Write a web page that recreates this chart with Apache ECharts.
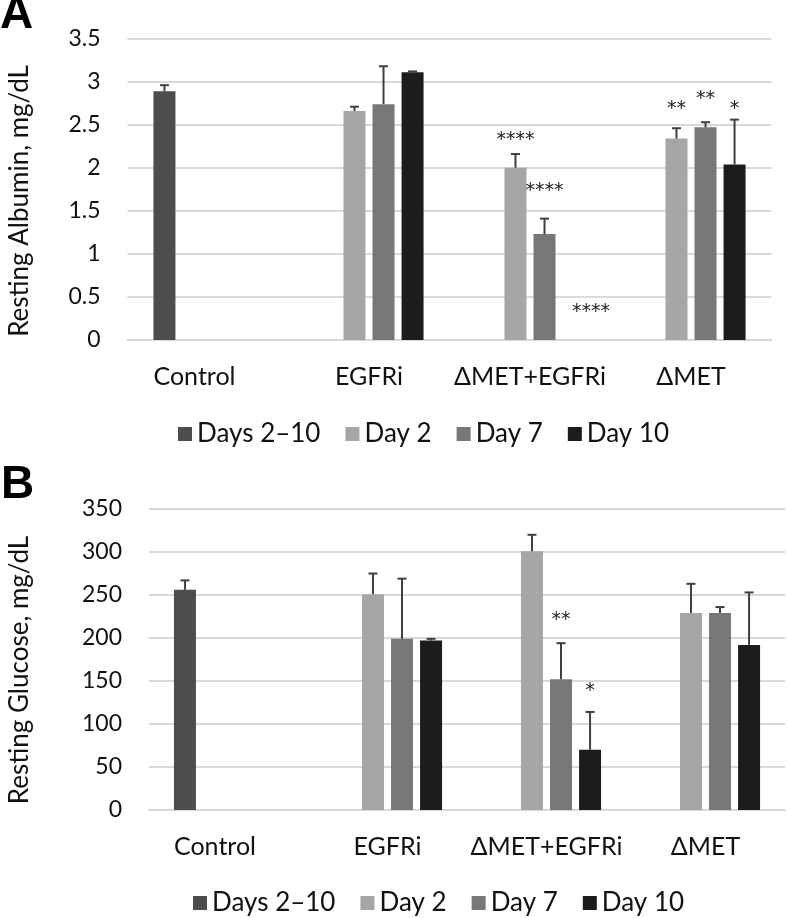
<!DOCTYPE html>
<html>
<head>
<meta charset="utf-8">
<script src="https://cdn.jsdelivr.net/npm/echarts@6/dist/echarts.min.js"></script>
<style>
  html, body { margin: 0; padding: 0; background: #fff; }
  #chart-container { width: 788px; height: 918px; }
</style>
</head>
<body>
<div id="chart-container"></div>
<script>
// groups and series
var categories = ['Control', 'EGFRi', 'ΔMET+EGFRi', 'ΔMET'];
var seriesNames = ['Days 2–10', 'Day 2', 'Day 7', 'Day 10'];
var seriesColors = ['#4d4d4d', '#a6a6a6', '#777777', '#1c1c1c'];

// panel A - resting albumin (mg/dL), mean and upper error
var albControl = [2.89, null, null, null];
var albDay2 = [null, 2.66, 2.00, 2.34];
var albDay7 = [null, 2.74, 1.23, 2.47];
var albDay10 = [null, 3.11, null, 2.04];
var albErrControl = [0.07, null, null, null];
var albErrDay2 = [null, 0.05, 0.16, 0.12];
var albErrDay7 = [null, 0.44, 0.18, 0.06];
var albErrDay10 = [null, 0.01, null, 0.52];
var albTicks = [0, 0.5, 1, 1.5, 2, 2.5, 3, 3.5];
// [category, series slot, value, text]
var albStars = [
  [2, 1, 2.37, '****'],
  [2, 2, 1.78, '****'],
  [2, 3.6, 0.375, '****'],
  [3, 1, 2.73, '**'],
  [3, 2, 2.85, '**'],
  [3, 3, 2.73, '*']
];

// panel B - resting glucose (mg/dL)
var gluControl = [256, null, null, null];
var gluDay2 = [null, 251, 301, 229];
var gluDay7 = [null, 199, 152, 229];
var gluDay10 = [null, 197, 70, 192];
var gluErrControl = [11, null, null, null];
var gluErrDay2 = [null, 24, 19, 34];
var gluErrDay7 = [null, 70, 42, 7];
var gluErrDay10 = [null, 2, 44, 61];
var gluTicks = [0, 50, 100, 150, 200, 250, 300, 350];
var gluStars = [
  [2, 2, 226, '**'],
  [2, 3, 143, '*']
];

var FONT = 'Lato';
var BAR_W = 22;
var BAR_GAP = 0.32;
var SLOT = BAR_W * (1 + BAR_GAP);

var dom = document.getElementById('chart-container');
var myChart = echarts.init(dom, null, { renderer: 'canvas' });

function barSeries(name, data, color, idx) {
  return {
    name: name,
    type: 'bar',
    xAxisIndex: idx,
    yAxisIndex: idx,
    data: data,
    barWidth: BAR_W,
    barGap: (BAR_GAP * 100) + '%',
    itemStyle: { color: color },
    z: 2
  };
}

function errSeries(means, errs, slot, idx) {
  var data = [];
  means.forEach(function (m, i) {
    if (m != null && errs[i] != null) data.push([i, m, errs[i]]);
  });
  return {
    type: 'custom',
    xAxisIndex: idx,
    yAxisIndex: idx,
    z: 3,
    silent: true,
    data: data,
    renderItem: function (params, api) {
      var base = api.coord([api.value(0), api.value(1)]);
      var top = api.coord([api.value(0), api.value(1) + api.value(2)]);
      var x = base[0] + (slot - 1.5) * SLOT;
      var st = { stroke: '#404040', lineWidth: 2 };
      return {
        type: 'group',
        children: [
          { type: 'line', shape: { x1: x, y1: base[1], x2: x, y2: top[1] }, style: st },
          { type: 'line', shape: { x1: x - 4.5, y1: top[1], x2: x + 4.5, y2: top[1] }, style: st }
        ]
      };
    }
  };
}

function starSeries(stars, idx) {
  return {
    type: 'custom',
    xAxisIndex: idx,
    yAxisIndex: idx,
    z: 4,
    silent: true,
    data: stars,
    renderItem: function (params, api) {
      var p = api.coord([api.value(0), api.value(2)]);
      var x = p[0] + (api.value(1) - 1.5) * SLOT;
      return {
        type: 'text',
        x: x,
        y: p[1] + 4,
        style: {
          text: stars[params.dataIndex][3],
          fill: '#222',
          fontSize: 19,
          fontFamily: 'DejaVu Sans',
          align: 'center',
          verticalAlign: 'middle'
        }
      };
    }
  };
}

function xAxis(idx) {
  return {
    type: 'category',
    gridIndex: idx,
    data: categories,
    axisTick: { show: false },
    axisLine: { lineStyle: { color: '#d9d9d9', width: 2 } },
    axisLabel: {
      interval: 0,
      margin: 24,
      color: '#111',
      fontSize: 25,
      fontFamily: FONT,
      formatter: function (v) {
        return v === 'Control' ? '{c|' + v + '}' : v;
      },
      rich: {
        c: { fontSize: 25, fontFamily: FONT, color: '#111', padding: [0, 27, 0, 0] }
      }
    }
  };
}

function yAxis(idx, ticks) {
  return {
    type: 'value',
    gridIndex: idx,
    min: ticks[0],
    max: ticks[ticks.length - 1],
    interval: ticks[1] - ticks[0],
    axisLine: { show: false },
    axisTick: { show: false },
    splitLine: { lineStyle: { color: '#d9d9d9', width: 2 } },
    axisLabel: { margin: 27, color: '#111', fontSize: 23, fontFamily: FONT }
  };
}

function legend(left, top) {
  return {
    data: seriesNames,
    left: left,
    top: top,
    icon: 'rect',
    itemWidth: 14,
    itemHeight: 14,
    itemGap: 25,
    textStyle: { fontSize: 26, fontFamily: FONT, color: '#111' }
  };
}

function axisTitle(text, x, y) {
  return {
    type: 'text',
    x: x,
    y: y,
    rotation: Math.PI / 2,
    style: {
      text: text,
      fill: '#111',
      fontSize: 26,
      fontFamily: FONT,
      align: 'center',
      verticalAlign: 'middle'
    }
  };
}

var option = {
  animation: false,
  backgroundColor: '#fff',
  title: [
    { text: 'A', left: 0, top: -8, padding: 0,
      textStyle: { fontSize: 46, fontWeight: 'bold', fontFamily: 'Liberation Sans', color: '#000' } },
    { text: 'B', left: 1, top: 462, padding: 0,
      textStyle: { fontSize: 46, fontWeight: 'bold', fontFamily: 'Liberation Sans', color: '#000' } }
  ],
  graphic: [
    axisTitle('Resting Albumin, mg/dL', 20, 201),
    axisTitle('Resting Glucose, mg/dL', 20, 670)
  ],
  legend: [legend(173, 416), legend(188, 885)],
  grid: [
    { left: 127.5, top: 38.7, width: 644, height: 301.3 },
    { left: 149, top: 509, width: 636, height: 301 }
  ],
  xAxis: [xAxis(0), xAxis(1)],
  yAxis: [yAxis(0, albTicks), yAxis(1, gluTicks)],
  series: [
    barSeries(seriesNames[0], albControl, seriesColors[0], 0),
    barSeries(seriesNames[1], albDay2, seriesColors[1], 0),
    barSeries(seriesNames[2], albDay7, seriesColors[2], 0),
    barSeries(seriesNames[3], albDay10, seriesColors[3], 0),
    errSeries(albControl, albErrControl, 0, 0),
    errSeries(albDay2, albErrDay2, 1, 0),
    errSeries(albDay7, albErrDay7, 2, 0),
    errSeries(albDay10, albErrDay10, 3, 0),
    starSeries(albStars, 0),
    barSeries(seriesNames[0], gluControl, seriesColors[0], 1),
    barSeries(seriesNames[1], gluDay2, seriesColors[1], 1),
    barSeries(seriesNames[2], gluDay7, seriesColors[2], 1),
    barSeries(seriesNames[3], gluDay10, seriesColors[3], 1),
    errSeries(gluControl, gluErrControl, 0, 1),
    errSeries(gluDay2, gluErrDay2, 1, 1),
    errSeries(gluDay7, gluErrDay7, 2, 1),
    errSeries(gluDay10, gluErrDay10, 3, 1),
    starSeries(gluStars, 1)
  ]
};

myChart.setOption(option);
window.addEventListener('resize', myChart.resize);
</script>
</body>
</html>
